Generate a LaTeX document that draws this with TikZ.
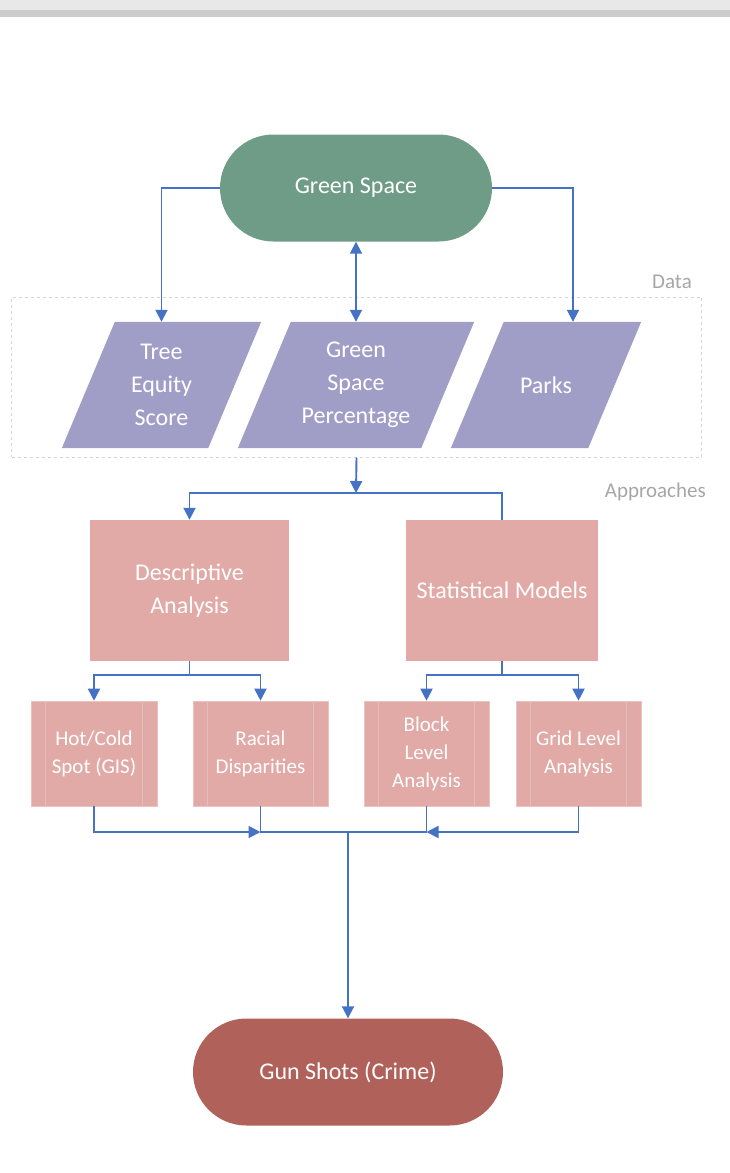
\documentclass[tikz,border=0pt]{standalone}
\usepackage{fontspec}
\setmainfont{Carlito}
\usetikzlibrary{arrows.meta,shapes.misc,backgrounds,positioning}
\definecolor{greenc}{RGB}{111,156,135}
\definecolor{lavc}{RGB}{160,158,199}
\definecolor{pinkc}{RGB}{225,170,167}
\definecolor{redc}{RGB}{175,97,90}
\definecolor{arrowc}{RGB}{68,114,196}
\definecolor{tagc}{RGB}{166,166,166}
\definecolor{dashc}{RGB}{212,212,212}

\begin{document}
\begin{tikzpicture}[%
    x=1pt, y=-1pt,
    >={Triangle[length=12pt,width=12pt]},
    conn/.style={draw=arrowc, line width=1.9pt},
    big/.style={font=\fontsize{24}{33}\selectfont},
    small/.style={font=\fontsize{21}{28}\selectfont},
    terminal/.style={rounded rectangle, big, text=white, inner sep=0pt, minimum height=107pt},
    datanode/.style={rectangle, text=white, big, align=center, inner sep=0pt, minimum height=126pt},
    approach/.style={rectangle, fill=pinkc, text=white, big, align=center, minimum height=141pt},
    method/.style={rectangle, fill=pinkc, draw=pinkc!70!white, line width=0.6pt, text=white,
      small, align=center, minimum height=105pt},
    tag/.style={text=tagc, small, inner sep=0pt},
  ]
    \useasboundingbox (0,0) rectangle (730,1173);
    \fill[gray!18] (0,0) rectangle (730,10);
    \fill[gray!40] (0,10) rectangle (730,17);

    \node[terminal, fill=greenc, minimum width=272pt] (green) at (356,188) {Green Space};

    \node[draw=dashc, dashed, line width=1pt, minimum width=690pt, minimum height=160pt] (data) at (356.5,377) {};
    \node[tag, anchor=base east] (datatag) at (692,288) {Data};

    \node[datanode, minimum width=146pt] (tree) at (161.5,385) {Tree\\Equity\\Score};
    \node[datanode, minimum width=183pt] (gsp) at (356,385) {Green\\Space\\Percentage};
    \node[datanode, minimum width=137pt] (parks) at (546,385) {Parks};
    \begin{scope}[on background layer]
      \foreach \n in {tree,gsp,parks}
        \fill[lavc] ([xshift=-26.5pt]\n.south west) -- ([xshift=-26.5pt]\n.south east)
          -- ([xshift=26.5pt]\n.north east) -- ([xshift=26.5pt]\n.north west) -- cycle;
    \end{scope}

    \node[tag, anchor=base east] (apptag) at (706,497) {Approaches};
    \coordinate (split) at (356,493);

    \node[approach, minimum width=199pt] (desc) at (189.5,590.5) {Descriptive\\Analysis};
    \node[approach, minimum width=192pt] (stat) at (502,590.5) {Statistical Models};

    \node[method, minimum width=126pt] (hot) at (94,753.5) {Hot/Cold\\Spot (GIS)};
    \node[method, minimum width=135pt] (racial) at (260.5,753.5) {Racial\\Disparities};
    \node[method, minimum width=125pt] (block) at (426.5,753.5) {Block\\Level\\Analysis};
    \node[method, minimum width=125pt] (grid) at (578.5,753.5) {Grid Level\\Analysis};
    \foreach \n in {hot,racial,block,grid}
      \draw[pinkc!80!white, line width=0.6pt]
        ([xshift=15pt]\n.north west) -- ([xshift=15pt]\n.south west)
        ([xshift=-15pt]\n.north east) -- ([xshift=-15pt]\n.south east);
    \coordinate (merge) at (348,832);

    \node[terminal, fill=redc, minimum width=310pt] (gun) at (348,1072) {Gun Shots (Crime)};

    \draw[conn,->] (green.west) -| (tree.north);
    \draw[conn,->] (green.east) -| ([xshift=27pt]parks.north);
    \draw[conn,<->] (green.south) -- (gsp.north);
    \draw[conn,->] (data.south) -- (split);
    \draw[conn,->] (split) -| (desc.north);
    \draw[conn] (split) -| (stat.north);
    \draw[conn,->] (desc.south) -- ++(0,14) -| (hot.north);
    \draw[conn,->] (desc.south) -- ++(0,14) -| (racial.north);
    \draw[conn,->] (stat.south) -- ++(0,14) -| (block.north);
    \draw[conn,->] (stat.south) -- ++(0,14) -| (grid.north);
    \draw[conn,->] (hot.south) |- (racial.south |- merge);
    \draw[conn] (racial.south) |- (merge) -| (block.south);
    \draw[conn,->] (grid.south) |- (block.south |- merge);
    \draw[conn,->] (merge) -- (gun.north);
  \end{tikzpicture}
\end{document}
